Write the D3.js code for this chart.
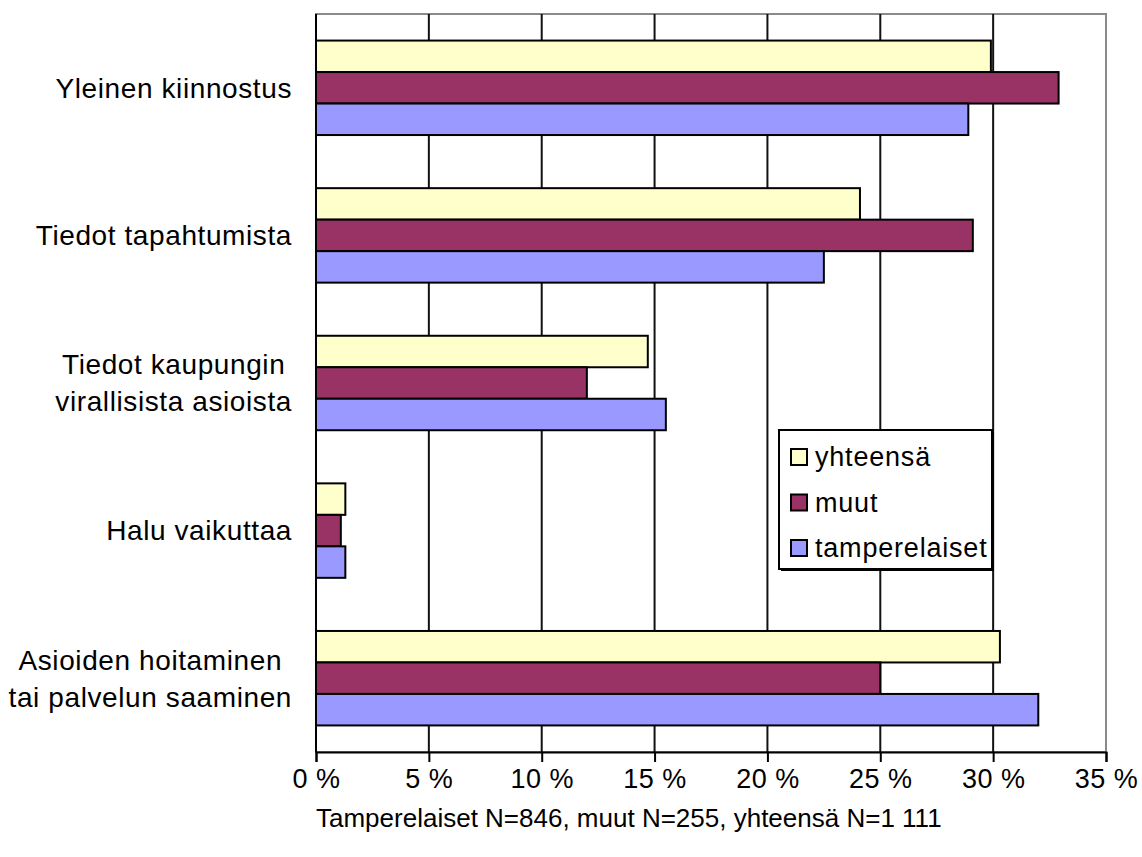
<!DOCTYPE html>
<html>
<head>
<meta charset="utf-8">
<script src="https://cdn.jsdelivr.net/npm/d3@7"></script>
<style>
body{margin:0;background:#fff;}
text{font-family:"Liberation Sans",Arial,sans-serif;fill:#000;}
</style>
</head>
<body>
<div id="chart"></div>
<script>

const categories = [
    ["Yleinen kiinnostus"],
    ["Tiedot tapahtumista"],
    ["Tiedot kaupungin","virallisista asioista"],
    ["Halu vaikuttaa"],
    ["Asioiden hoitaminen","tai palvelun saaminen"]
];

const seriesNames = ["yhteensä","muut","tamperelaiset"];
const seriesColors = ["#ffffcc","#993366","#9999ff"];

const yhteensa = [29.9,24.1,14.7,1.3,30.3];
const muut = [32.9,29.1,12.0,1.1,25.0];
const tamperelaiset = [28.9,22.5,15.5,1.3,32.0];

const xTicks = [0,5,10,15,20,25,30,35];

const footnote = "Tamperelaiset N=846, muut N=255, yhteensä N=1 111";


const width = 1142;
const height = 857;

const plotLeft = 316, plotRight = 1106, plotTop = 14, plotBottom = 752;

const svg = d3.select("#chart")
    .append("svg")
    .attr("width",width)
    .attr("height",height);

const x = d3.scaleLinear().domain([0,35]).range([plotLeft,plotRight]);

const y = d3.scaleBand()
    .domain(d3.range(categories.length))
    .range([plotTop,plotBottom])
    .paddingInner(0.36)
    .paddingOuter(0.18);

const ySub = d3.scaleBand()
    .domain(d3.range(seriesNames.length))
    .range([0,y.bandwidth()]);

const values = [yhteensa,muut,tamperelaiset];

// plot frame
svg.append("rect")
    .attr("x",plotLeft)
    .attr("y",plotTop)
    .attr("width",plotRight-plotLeft)
    .attr("height",plotBottom-plotTop)
    .attr("fill","none")
    .attr("stroke","#8a8a8a")
    .attr("stroke-width",2);

// grid
svg.append("g")
    .selectAll("line")
    .data(xTicks.slice(1,-1))
    .enter()
    .append("line")
    .attr("x1",d=>x(d))
    .attr("x2",d=>x(d))
    .attr("y1",plotTop)
    .attr("y2",plotBottom)
    .attr("stroke","#111")
    .attr("stroke-width",2);

// bars
values.forEach((vals,s)=>{

    svg.append("g")
        .selectAll("rect")
        .data(vals)
        .enter()
        .append("rect")
        .attr("x",x(0))
        .attr("y",(d,i)=>y(i)+ySub(s))
        .attr("width",d=>x(d)-x(0))
        .attr("height",ySub.bandwidth())
        .attr("fill",seriesColors[s])
        .attr("stroke","#000")
        .attr("stroke-width",2);

});

// x axis
const xAxis = svg.append("g")
    .attr("transform","translate(0,"+plotBottom+")")
    .call(d3.axisBottom(x).tickValues(xTicks).tickSize(10).tickFormat(d=>d+" %"));

xAxis.select(".domain").attr("stroke","#000").attr("stroke-width",2);
xAxis.selectAll(".tick line").attr("stroke","#000").attr("stroke-width",2);
xAxis.selectAll(".tick text")
    .attr("y",17)
    .attr("dy","0.71em")
    .style("font-size","27px")
    .style("font-family","'Liberation Sans',Arial,sans-serif")
    .style("letter-spacing","0.5px")
    .attr("fill","#000");

// y axis line
svg.append("line")
    .attr("x1",plotLeft).attr("x2",plotLeft)
    .attr("y1",plotTop).attr("y2",plotBottom)
    .attr("stroke","#000")
    .attr("stroke-width",2);

// category labels
const labels = svg.append("g");

categories.forEach((lines,i)=>{

    const t = labels.append("text")
        .attr("text-anchor","middle")
        .style("font-size","28px")
        .style("letter-spacing","0.6px");

    const lh = 37;
    const cy = y(i)+y.bandwidth()/2;

    lines.forEach((ln,k)=>{
        t.append("tspan")
            .attr("x",0)
            .attr("y",cy-(lines.length-1)*lh/2+k*lh)
            .attr("dy","0.35em")
            .text(ln);
    });

    let maxW = 0;
    t.selectAll("tspan").each(function(){
        maxW = Math.max(maxW,this.getComputedTextLength());
    });

    t.selectAll("tspan").attr("x",292-maxW/2);

});

// legend
const lx = 779, ly = 430, lw = 213, lhgt = 139;

svg.append("rect")
    .attr("x",lx+2).attr("y",ly+2)
    .attr("width",lw).attr("height",lhgt)
    .attr("fill","#000");

svg.append("rect")
    .attr("x",lx).attr("y",ly)
    .attr("width",lw).attr("height",lhgt)
    .attr("fill","#fff")
    .attr("stroke","#000")
    .attr("stroke-width",2);

const leg = svg.append("g")
    .selectAll("g")
    .data(seriesNames)
    .enter()
    .append("g")
    .attr("transform",(d,i)=>"translate("+(lx+12)+","+(ly+27+i*45.5)+")");

leg.append("rect")
    .attr("x",0).attr("y",-8)
    .attr("width",16).attr("height",16)
    .attr("fill",(d,i)=>seriesColors[i])
    .attr("stroke","#000")
    .attr("stroke-width",2);

leg.append("text")
    .attr("x",24)
    .attr("dy","0.35em")
    .style("font-size","27px")
    .style("letter-spacing","0.8px")
    .text(d=>d);

// footnote
svg.append("text")
    .attr("x",316)
    .attr("y",827)
    .style("font-size","26px")
    .text(footnote);

</script>
</body>
</html>
